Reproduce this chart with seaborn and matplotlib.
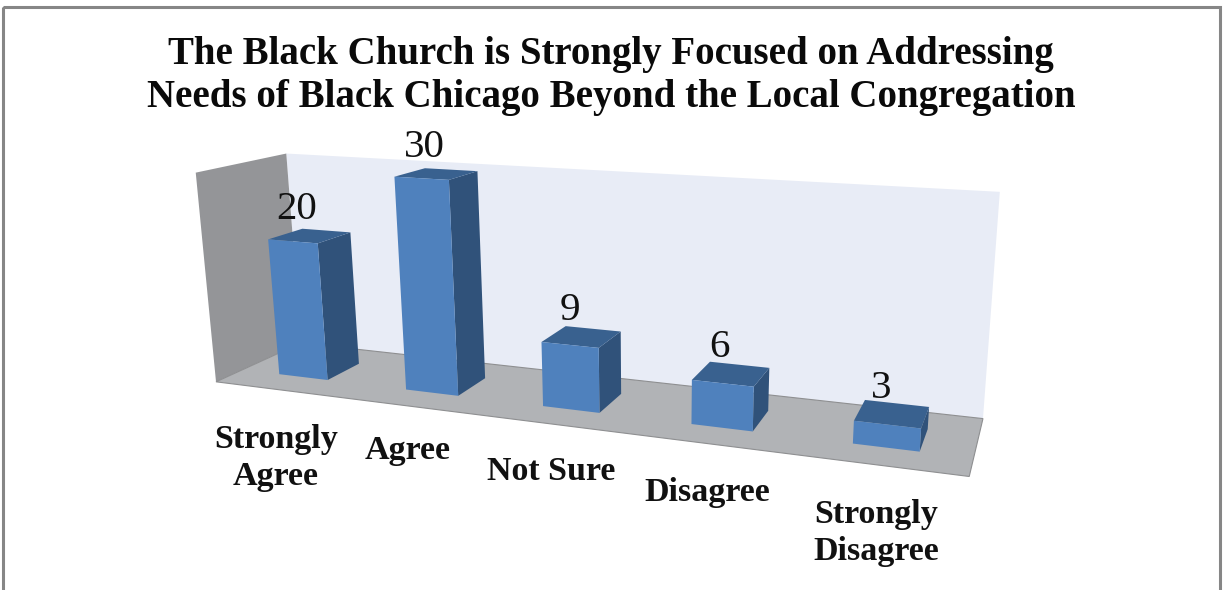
import numpy as np
import pandas as pd
import matplotlib
matplotlib.use("Agg")
import matplotlib.pyplot as plt
import seaborn as sns
from matplotlib.patches import Polygon, Rectangle
from matplotlib.transforms import Affine2D, Transform

# Survey responses
categories = ["Strongly\nAgree", "Agree", "Not Sure", "Disagree", "Strongly\nDisagree"]
counts = [20, 30, 9, 6, 3]
title_lines = ["The Black Church is Strongly Focused on Addressing",
               "Needs of Black Chicago Beyond the Local Congregation"]

W, H = 1225, 590
Z_MAX = 30
BAR_WIDTH = 0.39
DEPTH_FRONT, DEPTH_BACK = 0.29, 0.69
DEPTH_VALUE_LABEL = 0.455

FRONT = "#4F81BD"
SIDE = "#30527A"
TOP = "#39618F"
BACK_WALL = "#E8ECF6"
LEFT_WALL = "#949598"
FLOOR = "#B1B3B6"

# Camera calibrated on the corners of the chart box: (x, depth, z) -> (px, py)
box_world = np.array([[0, 0, 0], [0, 1, 0], [5, 1, 0], [5, 0, 0],
                      [0, 0, Z_MAX], [0, 1, Z_MAX], [5, 1, Z_MAX]], float)
box_pixels = np.array([[215, 382], [302, 343], [983, 418], [969, 477],
                       [197, 172], [285, 154], [1000, 192]], float)


def fit_camera(world, pixels):
    rows, rhs = [], []
    for (x, y, z), (u, v) in zip(world, pixels):
        rows.append([x, y, z, 1, 0, 0, 0, 0, -u * x, -u * y, -u * z])
        rows.append([0, 0, 0, 0, x, y, z, 1, -v * x, -v * y, -v * z])
        rhs += [u, v]
    sol = np.linalg.lstsq(np.array(rows), np.array(rhs), rcond=None)[0]
    return np.append(sol, 1.0).reshape(3, 4)


CAMERA = fit_camera(box_world, box_pixels)


def project(x, depth, z):
    """Chart coordinates (x measured from the left box edge) to canvas pixels."""
    p = CAMERA @ np.array([x, depth, z, 1.0])
    return p[0] / p[2], p[1] / p[2]


class DepthPlane(Transform):
    """Maps (category position, value) data onto a vertical plane at a given depth."""
    input_dims = output_dims = 2
    is_separable = False

    def __init__(self, plane_depth):
        super().__init__()
        self.plane_depth = plane_depth

    def transform_non_affine(self, values):
        values = np.asarray(values, float)
        out = np.empty_like(values)
        for i, (x, z) in enumerate(values):
            px, py = project(x + 0.5, self.plane_depth, z)
            out[i] = px, H - py
        return out


sns.set_theme(style="white")
fig = plt.figure(figsize=(W / 100, H / 100), dpi=100, facecolor="white")
ax = fig.add_axes([0, 0, 1, 1])
canvas = Affine2D().scale(1, -1).translate(0, H)

frame = pd.DataFrame({"response": categories, "count": counts})
sns.barplot(data=frame, x="response", y="count", color=FRONT, saturation=1,
            width=BAR_WIDTH, ax=ax, zorder=4)
ax.set_xlim(-0.5, 4.5)
ax.set_ylim(0, Z_MAX)
ax.set_axis_off()
bars = list(ax.patches)


def face(points, color, zorder, **kw):
    ax.add_patch(Polygon(points, closed=True, facecolor=color, edgecolor=kw.pop("edgecolor", "none"),
                         transform=canvas, zorder=zorder, clip_on=False, **kw))


# Walls and floor of the box
face([project(0, 1, Z_MAX), project(5, 1, Z_MAX), project(5, 1, 0), project(0, 1, 0)], BACK_WALL, 1)
face([project(0, 0, Z_MAX), project(0, 1, Z_MAX), project(0, 1, 0), project(0, 0, 0)], LEFT_WALL, 1)
face([project(0, 0, 0), project(0, 1, 0), project(5, 1, 0), project(5, 0, 0)], FLOOR, 1.5,
     edgecolor="#8E8F91", linewidth=0.8)

# Extrude every bar drawn by seaborn into a box
plane = DepthPlane(DEPTH_FRONT)
for bar, value in zip(bars, counts):
    left = bar.get_x() + 0.5
    right = left + bar.get_width()
    bar.set_transform(plane)
    bar.set_clip_on(False)
    bar.set_edgecolor("none")
    face([project(right, DEPTH_FRONT, value), project(right, DEPTH_BACK, value),
          project(right, DEPTH_BACK, 0), project(right, DEPTH_FRONT, 0)], SIDE, 3)
    face([project(left, DEPTH_FRONT, value), project(left, DEPTH_BACK, value),
          project(right, DEPTH_BACK, value), project(right, DEPTH_FRONT, value)], TOP, 3)
    px, py = project((left + right) / 2, DEPTH_VALUE_LABEL, value)
    ax.text(px - 10, py - 27.5, str(value), transform=canvas, ha="center", va="center",
            family="Liberation Serif", fontsize=29.5, color="#111111", zorder=6)

# Category labels sit below the floor and step downward with the perspective
label_centres = [(276, 458), (408, 451), (551, 472), (707, 493), (876, 533)]
for name, (px, py) in zip(categories, label_centres):
    ax.text(px, py, name, transform=canvas, ha="center", va="center", linespacing=1.24,
            family="Liberation Serif", fontweight="bold", fontsize=24.5, color="#111111", zorder=6)

for line, py in zip(title_lines, (64, 107)):
    ax.text(611, py, line, transform=canvas, ha="center", va="baseline",
            family="Liberation Serif", fontweight="bold", fontsize=28, color="#0A0A0A", zorder=6)

# Outer chart border, running off the bottom of the canvas
ax.add_patch(Rectangle((3, 7), 1217, 620, transform=canvas, fill=False,
                       edgecolor="#868686", linewidth=2.2, clip_on=False, zorder=7))

fig.savefig("out.png", dpi=100, facecolor="white")
